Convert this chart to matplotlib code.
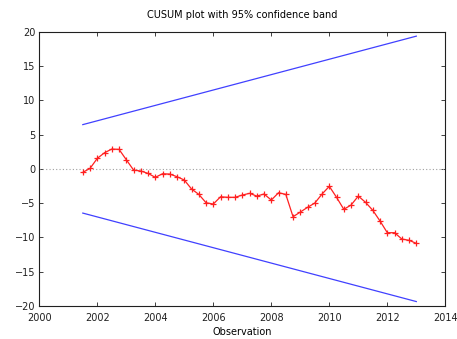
import matplotlib
matplotlib.use("Agg")
import matplotlib.pyplot as plt
import numpy as np

start_year = 2001.5
step = 0.25
cusum = [-0.51, 0.07, 1.53, 2.35, 2.89, 2.84, 1.33, -0.17, -0.32, -0.66,
         -1.24, -0.71, -0.76, -1.15, -1.63, -2.94, -3.72, -4.94, -5.13, -4.07,
         -4.15, -4.15, -3.82, -3.57, -3.97, -3.67, -4.55, -3.48, -3.72, -6.98,
         -6.30, -5.61, -4.99, -3.67, -2.55, -4.15, -5.90, -5.28, -3.97, -4.88,
         -6.05, -7.61, -9.31, -9.31, -10.23, -10.42, -10.86]
band_years = [2001.5, 2013.0]
band_upper = [6.45, 19.35]
band_lower = [-6.45, -19.35]

years = start_year + step * np.arange(len(cusum))

fig = plt.figure(figsize=(4.57, 3.39), dpi=100)
ax = fig.add_axes([0.086, 0.0973, 0.8884, 0.8092])

ax.axhline(0, color='#a0a0a0', lw=0.8, ls=(0, (1, 2)))
ax.plot(band_years, band_upper, color='#4040ff', lw=0.9)
ax.plot(band_years, band_lower, color='#4040ff', lw=0.9)
ax.plot(years, cusum, color='#ff2020', lw=0.9, marker='+', ms=5, mew=0.9)

ax.set_xlim(2000, 2014)
ax.set_ylim(-20, 20)
ax.set_xticks(np.arange(2000, 2015, 2))
ax.set_yticks(np.arange(-20, 21, 5))
ax.tick_params(direction='in', top=True, right=True, labelsize=7, length=3,
               width=0.6, pad=3, colors='#202020')
ax.tick_params(axis='x', pad=5)
for s in ax.spines.values():
    s.set_linewidth(0.8)
    s.set_color('#202020')
ax.set_xlabel('Observation', fontsize=7, labelpad=3)
ax.set_title('CUSUM plot with 95% confidence band', fontsize=7, pad=10)

fig.savefig('out.png', dpi=100)
